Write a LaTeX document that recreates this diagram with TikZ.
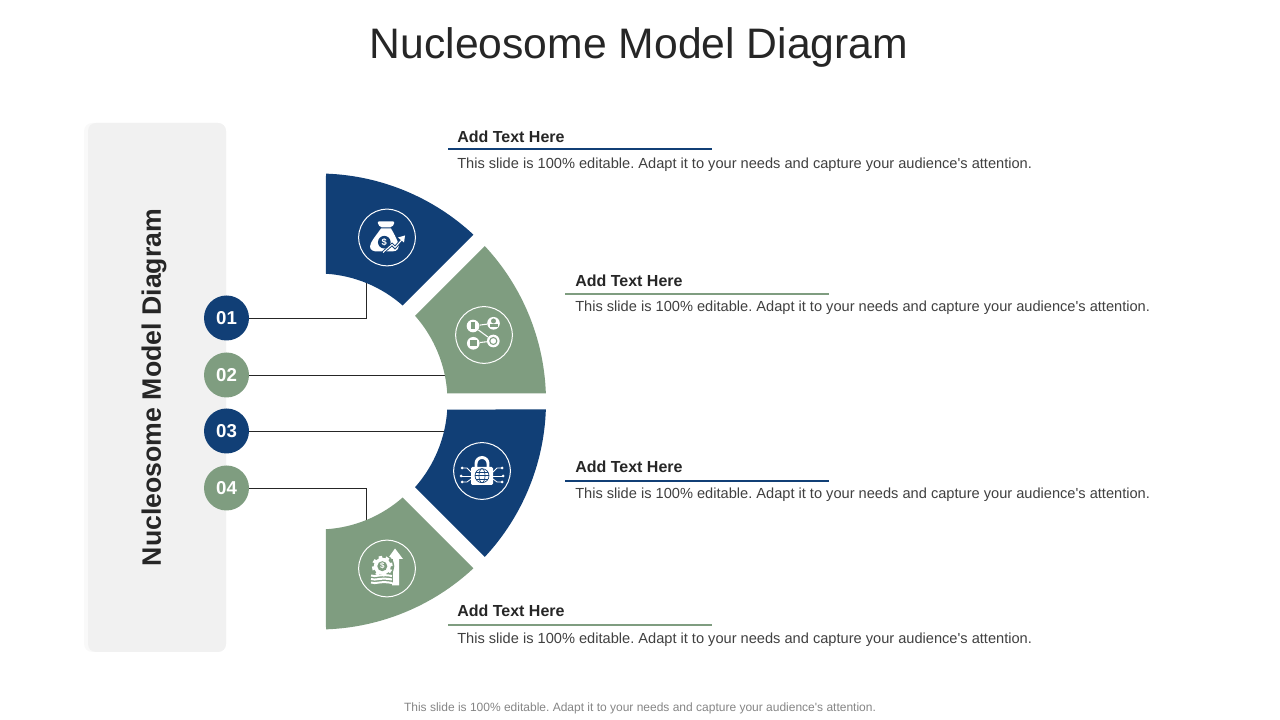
\documentclass[tikz,border=0pt]{standalone}
\usepackage{fontspec}
\setmainfont{Liberation Sans}
\usepackage{tikz}
\definecolor{SlideNavy}{HTML}{113F76}
\definecolor{SlideGreen}{HTML}{7F9D80}
\definecolor{SlidePanel}{HTML}{F1F1F1}
\definecolor{SlidePanelEdge}{HTML}{F9F9F9}
\definecolor{SlideInk}{HTML}{262626}
\definecolor{SlideText}{HTML}{404040}
\definecolor{SlideFoot}{HTML}{858585}
\usetikzlibrary{positioning}
\newcommand{\plainquote}{\XeTeXglyph\XeTeXcharglyph"27 }

\begin{document}
\frenchspacing
\begin{tikzpicture}[
x=0.75pt,
y=0.75pt,
numdot/.style={
	circle,
	text=white,
	inner sep=0pt,
	minimum size=33.75pt,
	font=\fontsize{14}{16}\selectfont\bfseries
},
head/.style={
	anchor=west,
	inner sep=0pt,
	text=SlideInk,
	font=\fontsize{12}{14}\selectfont\bfseries
},
body/.style={
	anchor=west,
	inner sep=0pt,
	text=SlideText,
	font=\fontsize{10.96}{13}\selectfont
},
wire/.style={
	draw=SlideInk,
	line width=0.6pt
},
ring/.style={
	circle,
	draw=white,
	line width=0.75pt,
	inner sep=0pt,
	minimum size=42.5pt
},
netdot/.style={
	circle,
	fill=white,
	inner sep=0pt,
	minimum size=9.5pt
},
]

\useasboundingbox (0,0) rectangle (1280,720);

\node[inner sep=0pt, text=SlideInk, font=\fontsize{32}{38}\selectfont] (title) at (639,673) {Nucleosome Model Diagram};
\node[inner sep=0pt, text=SlideFoot, font=\fontsize{9}{11}\selectfont] (foot) at (640,12) {This slide is 100\% editable. Adapt it to your needs and capture your audience\plainquote s attention.};

\fill[SlidePanelEdge, rounded corners=6pt] (84,68) rectangle (226,597);
\fill[SlidePanel, rounded corners=6pt] (88,68) rectangle (226,597);
\node[rotate=90, inner sep=0pt, text=SlideInk, font=\fontsize{20}{24}\selectfont\bfseries] (side) at (154,332.5) {Nucleosome Model Diagram};

\node[numdot, fill=SlideNavy] (n1) at (226.5,402) {01};
\node[numdot, fill=SlideGreen] (n2) at (226.5,345) {02};
\node[numdot, fill=SlideNavy] (n3) at (226.5,289) {03};
\node[numdot, fill=SlideGreen] (n4) at (226.5,232) {04};

\coordinate (e1) at (366,440);
\coordinate (e2) at (448,345);
\coordinate (e3) at (448,289);
\coordinate (e4) at (366,197);

\draw[wire] (n1) -| (e1);
\draw[wire] (n2) -- (e2);
\draw[wire] (n3) -- (e3);
\draw[wire] (n4) -| (e4);

\begin{scope}[shift={(318,318.5)}]
\fill[SlideNavy] (87.99:228) arc[start angle=87.99, end angle=47.01, radius=228] -- (48.58:128) arc[start angle=48.58, end angle=86.42, radius=128] -- cycle;
\fill[SlideGreen] (42.99:228) arc[start angle=42.99, end angle=2.01, radius=228] -- (3.55:129.5) arc[start angle=3.55, end angle=41.45, radius=129.5] -- cycle;
\fill[SlideNavy] (-2.01:228) arc[start angle=-2.01, end angle=-42.99, radius=228] -- (-41.45:129.5) arc[start angle=-41.45, end angle=-3.55, radius=129.5] -- cycle;
\fill[SlideGreen] (-47.01:228) arc[start angle=-47.01, end angle=-87.99, radius=228] -- (-86.42:128) arc[start angle=-86.42, end angle=-48.58, radius=128] -- cycle;
\end{scope}

\node[ring] (r1) at (387,482.5) {};
\node[ring] (r2) at (484,385) {};
\node[ring] (r3) at (482,249) {};
\node[ring] (r4) at (387,151.5) {};

% money bag
\begin{scope}[shift={(r1)}]
\fill[white, rounded corners=1.5pt] (-10,16) -- (8,16) -- (5,10) -- (-7,10) -- cycle;
\fill[white] (-6,9) .. controls (-11,2) and (-17,-5) .. (-17,-9) .. controls (-17,-13) and (-13,-14) .. (-9,-14) -- (5,-14) .. controls (11,-14) and (13,-10) .. (11,-5) .. controls (9,0) and (7,4) .. (4,9) -- cycle;
\node[circle, fill=SlideNavy, text=white, inner sep=0pt, minimum size=9.5pt, font=\fontsize{7}{8}\selectfont\bfseries] (dollarA) at (-2.7,-4.7) {\$};
\draw[SlideNavy, line width=2.2pt] (-4,-15) -- (5,-7) -- (8,-10) -- (16,-1);
\draw[white, line width=0.8pt] (-4,-15) -- (5,-7) -- (8,-10) -- (16,-1);
\fill[white] (18,2) -- (11,0) -- (17,-5) -- cycle;
\end{scope}

% people and links
\begin{scope}[shift={(r2)}]
\node[netdot] (netA) at (-11,9) {};
\node[netdot] (netB) at (9.5,11.7) {};
\node[netdot] (netC) at (-10.7,-8.3) {};
\node[netdot] (netD) at (9.3,-6) {};
\draw[white, line width=0.8pt] (netA) -- (netB);
\draw[white, line width=0.8pt] (netC) -- (netD);
\draw[white, line width=0.8pt] (netA) -- (netD);
\fill[SlideGreen] (9.5,14) circle (2.5);
\fill[SlideGreen] (5.5,7.5) rectangle (13.5,11);
\fill[SlideGreen] (-13,5.5) rectangle (-9,13);
\fill[SlideGreen] (-14,-11.5) rectangle (-7.5,-5);
\draw[SlideGreen, line width=0.8pt] (9.3,-6) circle (3.5);
\end{scope}

% lock and globe
\begin{scope}[shift={(r3)}]
\draw[white, line width=2.2pt] (-6,3) -- (-6,7.5) arc[start angle=180, end angle=0, radius=6] -- (6,3);
\fill[white, rounded corners=1pt] (-11,4) rectangle (11,-14);
\draw[SlideNavy, line width=0.5pt] (0,-4.7) circle (7);
\draw[SlideNavy, line width=0.5pt] (0,-4.7) ellipse (3 and 7);
\draw[SlideNavy, line width=0.5pt] (-7,-4.7) -- (7,-4.7);
\draw[SlideNavy, line width=0.5pt] (-6,-1) -- (6,-1);
\draw[SlideNavy, line width=0.5pt] (-6,-8.4) -- (6,-8.4);
\draw[white, line width=0.6pt] (-11,-1) -- (-15,3) -- (-20,3);
\draw[white, line width=0.6pt] (-11,-5) -- (-21,-5);
\draw[white, line width=0.6pt] (-11,-8) -- (-15,-11) -- (-20,-11);
\draw[white, line width=0.6pt] (11,-1) -- (15,3) -- (20,3);
\draw[white, line width=0.6pt] (11,-5) -- (21,-5);
\draw[white, line width=0.6pt] (11,-8) -- (15,-11) -- (20,-11);
\fill[white] (-20,3) circle (1.5) (-21,-5) circle (1.5) (-20,-11) circle (1.5);
\fill[white] (20,3) circle (1.5) (21,-5) circle (1.5) (20,-11) circle (1.5);
\end{scope}

% gear, stack and arrow
\begin{scope}[shift={(r4)}]
\fill[white] (8,20) -- (16,9.5) -- (12,9.5) -- (12,-17) -- (5,-17) -- (5,-14) -- (6,-14) -- (6,9.5) -- (0.5,9.5) -- cycle;
\fill[SlideGreen] (-4.7,2.3) circle (12);
\fill[white] (-4.7,2.3) circle (8.5);
\draw[white, line width=2.2pt, dash pattern=on 2.6pt off 2.7pt] (-4.7,2.3) circle (9);
\node[circle, fill=SlideGreen, text=white, inner sep=0pt, minimum size=7.5pt, font=\fontsize{6}{7}\selectfont\bfseries] (dollarB) at (-4.7,2.3) {\$};
\draw[white, line width=1.5pt] (-16,-7) .. controls (-11,-9) and (-7,-5) .. (5,-7.5);
\draw[white, line width=1.5pt] (-16,-10.5) .. controls (-11,-12.5) and (-7,-8.5) .. (5,-11);
\draw[white, line width=1.5pt] (-16,-14) .. controls (-11,-16) and (-7,-12) .. (5,-14.5);
\end{scope}

\draw[SlideNavy, line width=1.1pt] (448,571) -- (712,571);
\draw[SlideGreen, line width=1.1pt] (565,426) -- (829,426);
\draw[SlideNavy, line width=1.1pt] (565,239) -- (829,239);
\draw[SlideGreen, line width=1.1pt] (448,95) -- (712,95);

\node[head] (h1) at (457,583) {Add Text Here};
\node[body] (b1) at (457,555) {This slide is 100\% editable. Adapt it to your needs and capture your audience\plainquote s attention.};
\node[head] (h2) at (575,439) {Add Text Here};
\node[body] (b2) at (575,412) {This slide is 100\% editable. Adapt it to your needs and capture your audience\plainquote s attention.};
\node[head] (h3) at (575,253) {Add Text Here};
\node[body] (b3) at (575,225) {This slide is 100\% editable. Adapt it to your needs and capture your audience\plainquote s attention.};
\node[head] (h4) at (457,109) {Add Text Here};
\node[body] (b4) at (457,80) {This slide is 100\% editable. Adapt it to your needs and capture your audience\plainquote s attention.};

\end{tikzpicture}
\end{document}
